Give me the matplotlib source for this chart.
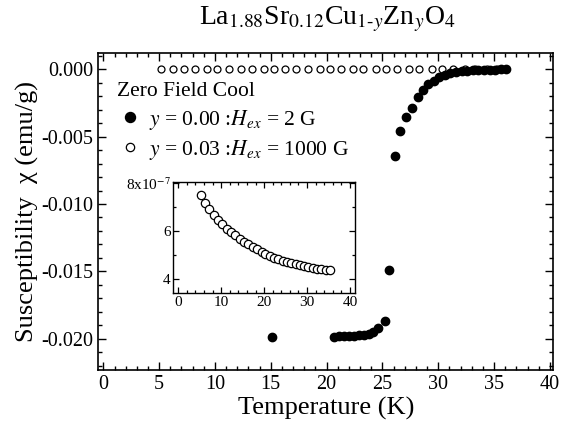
import numpy as np
import matplotlib
matplotlib.use("Agg")
import matplotlib.pyplot as plt
from matplotlib.ticker import MultipleLocator, FuncFormatter

plt.rcParams["font.family"] = ["Liberation Serif", "DejaVu Serif"]
plt.rcParams["mathtext.fontset"] = "stix"
plt.rcParams["axes.unicode_minus"] = False

# y = 0.00, Hex = 2 G (filled)
T_zn0 = [15.1, 20.65, 21.1, 21.55, 22.0, 22.45, 22.9, 23.35, 23.8, 24.2, 24.65,
         25.2, 25.6, 26.1, 26.6, 27.1, 27.65, 28.2, 28.65, 29.1, 29.6,
         30.1, 30.6, 31.1, 31.6, 32.1, 32.6, 33.1, 33.6, 34.1, 34.6, 35.1, 35.6, 36.1]
chi_zn0 = [-0.01984, -0.01984, -0.01983, -0.01982, -0.0198, -0.01978, -0.01975,
           -0.0197, -0.01962, -0.01948, -0.01917,
           -0.01865, -0.01493, -0.00641, -0.00458, -0.00354, -0.00285, -0.00206,
           -0.00151, -0.00111, -0.00087,
           -0.0006, -0.00045, -0.0003, -0.0002, -0.00015, -0.0001, -0.00008,
           -0.00005, -0.00004, -0.00003, -0.00002, -0.00001, 0.0]

# y = 0.03, Hex = 1000 G (open), in units of 1e-7 emu/g
T_zn3 = [5.2, 6.2, 7.2, 8.25, 9.3, 10.2, 11.3, 12.3, 13.3, 14.4, 15.3, 16.3, 17.3,
         18.3, 19.4, 20.3, 21.3, 22.4, 23.3, 24.4, 25.3, 26.3, 27.4, 28.3, 29.4,
         30.3, 31.3, 32.4, 33.3, 34.4, 35.3]
chi_zn3 = [7.49, 7.19, 6.91, 6.65, 6.46, 6.28, 6.10, 5.94, 5.81, 5.67, 5.55, 5.43,
           5.32, 5.22, 5.12, 5.03, 4.94, 4.87, 4.80, 4.74, 4.68, 4.64, 4.59, 4.55,
           4.51, 4.48, 4.43, 4.41, 4.38, 4.36, 4.35]

main_yticks = [0.0, -0.005, -0.010, -0.015, -0.020]
inset_yticks = [4, 6, 8]

fig = plt.figure(figsize=(5.7, 4.3), dpi=100)
ax = fig.add_axes([0.1725, 0.1395, 0.798, 0.7379])

ax.plot(T_zn0, chi_zn0, "o", color="black", ms=6, mec="black",
        label=r"$y$ = 0.00 :$H_{ex}$ = 2 G", zorder=3)
ax.plot(T_zn3, np.array(chi_zn3) * 1e-7, "o", mfc="white", mec="black", mew=0.9,
        ms=5, label=r"$y$ = 0.03 :$H_{ex}$ = 1000 G", zorder=2)

ax.set_xlim(-0.45, 40.3)
ax.set_ylim(-0.02232, 0.00123)
ax.xaxis.set_major_locator(MultipleLocator(5))
ax.xaxis.set_minor_locator(MultipleLocator(1))
ax.set_yticks(main_yticks)
ax.yaxis.set_minor_locator(MultipleLocator(0.001))
ax.yaxis.set_major_formatter(FuncFormatter(lambda v, _: f"{v:.3f}".replace("-0.000", "0.000")))
ax.tick_params(which="both", direction="in", top=True, right=True, labelsize=14.5, width=1.0)
ax.tick_params(which="major", length=6)
ax.tick_params(which="minor", length=3)
for s in ax.spines.values():
    s.set_linewidth(1.2)

ax.set_xlabel("Temperature (K)", fontsize=19, labelpad=2)
ax.set_ylabel("Susceptibility  χ (emu/g)", fontsize=19, labelpad=2)

leg = ax.legend(title="Zero Field Cool", loc="upper left", bbox_to_anchor=(0.008, 0.955),
                frameon=False, fontsize=15.5, title_fontsize=15.5, alignment="left",
                handlelength=1.17, handletextpad=0.3, borderaxespad=0.3,
                labelspacing=0.3, markerscale=1.2)

fig.text(0.575, 0.944,
         r"La$_{1.88}$Sr$_{0.12}$Cu$_{1\text{-}y}$Zn$_{y}$O$_{4}$",
         ha="center", va="baseline", fontsize=20)

# inset
axi = fig.add_axes([0.304, 0.318, 0.319, 0.2595])
axi.plot(T_zn3, chi_zn3, "o", mfc="white", mec="black", mew=0.9, ms=6)
axi.set_xlim(-1.16, 41.2)
axi.set_ylim(3.38, 8.07)
axi.xaxis.set_major_locator(MultipleLocator(10))
axi.xaxis.set_minor_locator(MultipleLocator(2))
axi.set_yticks(inset_yticks)
axi.set_yticklabels(["4", "6", r"8x10$^{-7}$"])
axi.yaxis.set_minor_locator(MultipleLocator(1))
axi.tick_params(which="both", direction="in", top=True, right=True, labelsize=11, width=0.9, pad=2)
axi.tick_params(which="major", length=4)
axi.tick_params(which="minor", length=2.5)
for s in axi.spines.values():
    s.set_linewidth(1.0)

fig.savefig("out.png", dpi=100)
